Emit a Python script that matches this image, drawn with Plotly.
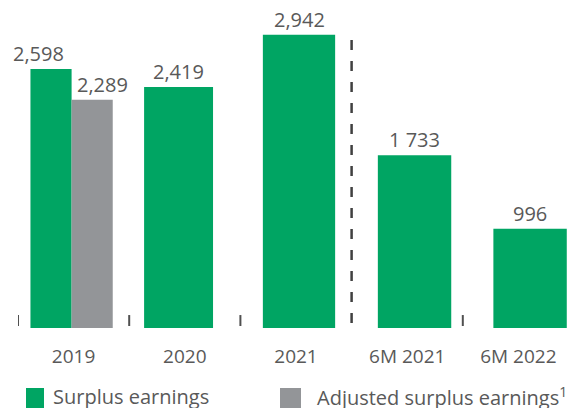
import plotly.graph_objects as go

categories = ["2019", "2020", "2021", "6M 2021", "6M 2022"]
surplus = [2598, 2419, 2942, 1733, 996]
surplus_labels = ["2,598", "2,419", "2,942", "1 733", "996"]
adjusted_cats = ["2019"]
adjusted = [2289]
adjusted_labels = ["2,289"]
legend_names = ["Surplus earnings", "Adjusted surplus earnings<sup>1</sup>"]

GREEN = "#00A563"
GREY = "#939598"
TXT = "#595959"
FONT = "Open Sans"

xi = {c: i for i, c in enumerate(categories)}

# bar geometry (style, in category units)
g_width = [0.37, 0.62, 0.65, 0.66, 0.66]
g_offset = [-0.388, -0.366, -0.298, -0.264, -0.225]
g_label_shift = [-13, 0, 0, 0, 0]
a_width = [0.37]
a_offset = [-0.018]
a_label_shift = [10]

fig = go.Figure()
fig.add_trace(go.Bar(
    name=legend_names[0],
    x=[xi[c] for c in categories], y=surplus,
    width=g_width, offset=g_offset,
    marker=dict(color=GREEN, line=dict(width=0)),
    hoverinfo="skip",
))
fig.add_trace(go.Bar(
    name=legend_names[1],
    x=[xi[c] for c in adjusted_cats], y=adjusted,
    width=a_width, offset=a_offset,
    marker=dict(color=GREY, line=dict(width=0)),
    hoverinfo="skip",
))

annotations = []
def add_labels(cats, vals, labels, widths, offsets, shifts):
    for c, v, t, w, o, s in zip(cats, vals, labels, widths, offsets, shifts):
        annotations.append(dict(xref="x", yref="y", x=xi[c] + o + w / 2, y=v,
                                xanchor="center", yanchor="bottom", yshift=0, xshift=s,
                                showarrow=False, text=t,
                                font=dict(family=FONT, size=20, color=TXT)))
add_labels(categories, surplus, surplus_labels, g_width, g_offset, g_label_shift)
add_labels(adjusted_cats, adjusted, adjusted_labels, a_width, a_offset, a_label_shift)

shapes = [
    dict(type="line", xref="paper", yref="y", x0=0, x1=1, y0=-20, y1=-20,
         line=dict(color="#606060", width=2, dash="2px,5.5px")),
    dict(type="line", xref="x", yref="y", x0=2.5, x1=2.5, y0=2890, y1=-190,
         line=dict(color="#404040", width=2.5, dash="10px,11px")),
]
for b in [-0.5, 0.5, 1.5, 3.5]:
    shapes.append(dict(type="line", xref="x", yref="y", x0=b, x1=b, y0=130, y1=20,
                       line=dict(color="#505050", width=2)))

# manual legend placed in paper coordinates
W, H, L, R, T, B = 574, 408, 18, 0, 29, 80
pw, ph = W - L - R, H - T - B
def px(x):
    return (x - L) / pw
def py(y):
    return (H - B - y) / ph

for (x0, sw, tx, color, name) in [(26, 18, 51, GREEN, legend_names[0]),
                                  (280, 21, 315, GREY, legend_names[1])]:
    shapes.append(dict(type="rect", xref="paper", yref="paper",
                       x0=px(x0), x1=px(x0 + sw), y0=py(408), y1=py(388),
                       fillcolor=color, line=dict(width=0)))
    annotations.append(dict(xref="paper", yref="paper", x=px(tx), y=py(396),
                            xanchor="left", yanchor="middle", showarrow=False,
                            text=name, font=dict(family=FONT, size=20, color=TXT)))

fig.update_layout(
    width=W, height=H,
    margin=dict(l=L, r=R, t=T, b=B, autoexpand=False),
    plot_bgcolor="white", paper_bgcolor="white",
    barmode="overlay",
    font=dict(family=FONT, color=TXT),
    showlegend=False,
    xaxis=dict(range=[-0.5, 4.5], tickmode="array",
               tickvals=list(range(len(categories))), ticktext=categories,
               showgrid=False, zeroline=False, showline=False, ticks="",
               tickfont=dict(family=FONT, size=19, color=TXT), fixedrange=True,
               ticklabelstandoff=15),
    yaxis=dict(range=[0, 3000], visible=False, showgrid=False, zeroline=False,
               fixedrange=True),
    shapes=shapes,
    annotations=annotations,
)
fig.write_html("out.html", config={"displayModeBar": False},
               post_script="document.body.style.margin='0';document.body.style.padding='0';")
